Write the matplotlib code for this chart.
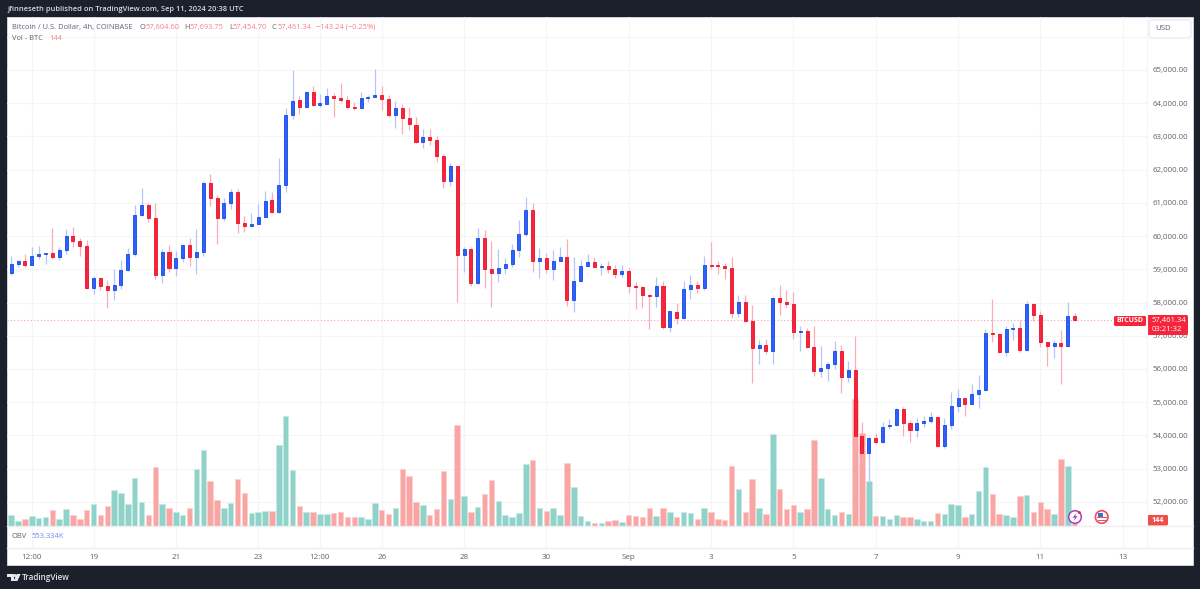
import matplotlib
matplotlib.use("Agg")
import matplotlib.pyplot as plt
from matplotlib.patches import Circle, FancyBboxPatch, Polygon, Rectangle

# 4h BTC/USD candles, 17 Aug - 11 Sep 2024
opens = [
    58887, 59157, 59257, 59137, 59387, 59467, 59490, 59357, 59587, 60017,
    59867, 59707, 58427, 58747, 58507, 58387, 58537, 58977, 59457, 60647,
    60937, 60557, 58817, 59507, 59027, 59327, 59747, 59367, 59527, 61608,
    61150, 60547, 60997, 61337, 60407, 60307, 60377, 60587, 61100, 60717,
    61540, 63645, 64097, 63877, 64328, 63937, 63990, 64226, 64166, 64106,
    63895, 63865, 64148, 64196, 64248, 64127, 63636, 63857, 63556, 63345,
    62834, 62984, 62894, 62412, 61670, 62101, 59433, 59624, 58601, 59945,
    59002, 58902, 59032, 59153, 59584, 60075, 60787, 59253, 59343, 59012,
    59253, 59383, 58079, 58661, 59101, 59231, 59071, 59101, 59001, 58860,
    58950, 58509, 58459, 58228, 58198, 58499, 57275, 57707, 57536, 58399,
    58519, 58439, 59141, 59131, 59091, 59051, 57687, 58008, 57456, 56633,
    56724, 56553, 58128, 58028, 57968, 57125, 57135, 56664, 55951, 56022,
    56142, 56553, 55771, 55981, 53985, 53463, 53935, 53795, 54276, 54316,
    54787, 54386, 54155, 54386, 54426, 54546, 53684, 54326, 54888, 55118,
    54948, 55249, 55369, 57074, 57044, 56512, 57205, 57225, 56563, 57957,
    57636, 56813, 56693, 56783, 56693, 57604.60,
]
closes = [
    59157, 59257, 59137, 59387, 59467, 59490, 59357, 59587, 60017, 59867,
    59707, 58427, 58747, 58507, 58387, 58537, 58977, 59457, 60647, 60937,
    60557, 58817, 59507, 59027, 59327, 59747, 59367, 59527, 61608, 61150,
    60547, 60997, 61337, 60407, 60307, 60377, 60587, 61057, 60717, 61540,
    63645, 64067, 63877, 64328, 63937, 64000, 64208, 64166, 64106, 63895,
    63865, 64148, 64196, 64248, 64127, 63636, 63856, 63566, 63365, 62834,
    62984, 62894, 62422, 61670, 62101, 59433, 59624, 58601, 59945, 59002,
    58902, 59032, 59153, 59584, 60075, 60787, 59253, 59343, 59012, 59253,
    59383, 58079, 58661, 59113, 59231, 59071, 59101, 59011, 58860, 58950,
    58509, 58459, 58218, 58198, 58499, 57275, 57737, 57536, 58409, 58519,
    58439, 59131, 59111, 59111, 59041, 57687, 58008, 57456, 56633, 56724,
    56553, 58138, 58018, 57968, 57125, 57155, 56664, 55951, 56022, 56142,
    56553, 55771, 55982, 53985, 53463, 53935, 53805, 54266, 54316, 54787,
    54386, 54155, 54386, 54426, 54546, 53684, 54326, 54888, 55118, 54948,
    55249, 55369, 57074, 57044, 56512, 57205, 57225, 56563, 57957, 57636,
    56813, 56693, 56783, 56693, 57596, 57461.34,
]
highs = [
    59407, 59287, 59467, 59657, 59707, 59497, 60247, 59687, 60207, 60287,
    59937, 59887, 58807, 58767, 58687, 59007, 59287, 59637, 60947, 61457,
    61000, 60987, 59607, 59737, 59537, 59767, 59947, 60217, 61650, 61860,
    61230, 61140, 61420, 61420, 60607, 60687, 60957, 61358, 61337, 62360,
    63865, 64990, 64226, 64370, 64527, 64278, 64468, 64300, 64609, 64230,
    64046, 64328, 64260, 65040, 64509, 64250, 64057, 63977, 63897, 63576,
    63225, 63215, 63014, 62482, 62202, 62110, 59664, 59684, 60236, 60186,
    59855, 59614, 59333, 59764, 60487, 61189, 60988, 59654, 59494, 59584,
    59664, 59925, 59383, 59283, 59454, 59383, 59201, 59241, 59121, 59131,
    59051, 58609, 58499, 58248, 58780, 58660, 57737, 57977, 58660, 58820,
    58660, 59412, 59823, 59251, 59181, 59362, 58228, 58218, 57927, 56864,
    56894, 58158, 58529, 58369, 58329, 57285, 57225, 57305, 56694, 56222,
    56834, 56724, 56242, 56994, 54396, 53950, 54065, 54396, 54486, 54817,
    54857, 54456, 54516, 54587, 54717, 54567, 54536, 55319, 55389, 55138,
    55550, 55810, 57205, 58107, 57074, 57305, 57395, 57475, 58057, 57997,
    57756, 56813, 56874, 57174, 58007, 57693.75,
]
lows = [
    58820, 59067, 59067, 59117, 59307, 59167, 59317, 59287, 59467, 59687,
    59387, 58420, 58247, 58387, 57837, 58087, 58397, 58950, 59387, 60607,
    60437, 58700, 58587, 58907, 58787, 59207, 59107, 58867, 59387, 60907,
    59757, 60467, 60817, 60107, 60127, 60307, 60360, 60570, 60690, 60700,
    61337, 63525, 63676, 63860, 63920, 63877, 63970, 63576, 64025, 63826,
    63796, 63835, 64025, 64180, 63796, 63600, 63263, 63074, 63195, 62814,
    62663, 62753, 62242, 61450, 61510, 58030, 58932, 58511, 58561, 58450,
    57879, 58631, 58852, 59083, 59383, 60015, 58912, 58732, 58882, 58671,
    59243, 57909, 57708, 58631, 59062, 59062, 58830, 58880, 58740, 58780,
    58278, 57797, 57827, 57215, 57877, 57195, 57125, 57356, 57506, 58098,
    58298, 58379, 59011, 58870, 58710, 57536, 57576, 57406, 55570, 56152,
    56453, 56162, 57626, 57857, 56914, 56553, 56624, 55791, 55771, 55650,
    55992, 55270, 55611, 53794, 53233, 52560, 53734, 53764, 54185, 54296,
    53995, 53814, 53965, 54266, 54366, 53644, 53634, 54196, 54697, 54587,
    54948, 54817, 55349, 56803, 56492, 56392, 56874, 56512, 56542, 57445,
    56673, 56091, 56342, 55550, 56663, 57454.70,
]
volumes = [
    646, 304, 380, 551, 456, 494, 893, 418, 988, 646,
    418, 893, 1235, 608, 1159, 2033, 1862, 1235, 2755, 1387,
    646, 3344, 1235, 1007, 779, 627, 1007, 3249, 4313, 2546,
    1463, 1007, 1311, 2660, 1862, 741, 779, 874, 836, 4636,
    6251, 3211, 1159, 779, 779, 703, 665, 741, 779, 532,
    494, 494, 380, 1311, 931, 703, 1007, 3249, 2869, 1349,
    1197, 646, 969, 3135, 1520, 5776, 1691, 817, 1083, 1824,
    2603, 1425, 646, 513, 741, 3553, 3762, 1045, 855, 1045,
    608, 3610, 2204, 551, 304, 190, 152, 266, 342, 228,
    608, 570, 532, 1007, 551, 1045, 779, 494, 779, 741,
    380, 1007, 817, 380, 342, 3401, 2128, 779, 2679, 1045,
    703, 5263, 2128, 969, 1197, 817, 969, 4883, 2717, 969,
    608, 779, 703, 7220, 5320, 2546, 551, 551, 418, 646,
    532, 532, 380, 266, 266, 741, 703, 1235, 1197, 494,
    703, 1976, 3344, 1824, 665, 608, 494, 1710, 1786, 817,
    1349, 969, 703, 3800, 3401, 144,
]
time_ticks = [3, 12, 24, 36, 45, 54, 66, 78, 90, 102, 114, 126, 138, 150, 162]
time_labels = ["12:00", "19", "21", "23", "12:00", "26", "28", "30", "Sep",
               "3", "5", "7", "9", "11", "13"]
price_ticks = list(range(52000, 67000, 1000))
last_price = closes[-1]

W, H = 1200, 589
DARK = "#1c202b"
GRID = "#f4f5f6"
TEXT = "#5f626d"
UP = "#2962ff"
UP_EDGE = "#1a47e0"
UP_WICK = "#b4c5fa"
DOWN = "#f7253c"
DOWN_EDGE = "#e8102a"
DOWN_WICK = "#f9aeb6"
VOL_UP = "#8fd2ca"
VOL_DOWN = "#f8a5a3"
FONT = "Open Sans"
plt.rcParams["font.family"] = [FONT, "DejaVu Sans"]


def box(left, top, right, bottom):
    # figure fraction rectangle from pixel edges, y counted from the top
    return [left / W, 1 - bottom / H, (right - left) / W, (bottom - top) / H]


fig = plt.figure(figsize=(W / 100, H / 100), dpi=100, facecolor=DARK)

# page background and panel
back = fig.add_axes([0, 0, 1, 1], zorder=0)
back.set_xlim(0, W)
back.set_ylim(H, 0)
back.axis("off")
back.add_patch(Rectangle((6.5, 17), 1186.5, 548, fc="white", ec="#cfd3dc", lw=0.7))

plot_box = box(7, 17, 1146.7, 526)
x_limits = (-0.612, 165.5)

ax_price = fig.add_axes(plot_box, zorder=1, facecolor="none")
ax_price.set_xlim(*x_limits)
ax_price.set_ylim(51274, 66595)
ax_price.set_xticks(time_ticks)
ax_price.set_yticks(price_ticks)
ax_price.set_yticklabels([f"{p:,.2f}" if p < 66000 else "" for p in price_ticks])
ax_price.grid(True, color=GRID, lw=0.8)
ax_price.set_axisbelow(True)
ax_price.yaxis.tick_right()
ax_price.tick_params(axis="y", length=0, pad=4.0, labelsize=5.7, labelcolor=TEXT)
ax_price.tick_params(axis="x", length=0, labelbottom=False)
for spine in ax_price.spines.values():
    spine.set_visible(False)

# volume on its own scale, under the candles
ax_vol = fig.add_axes(plot_box, zorder=2, facecolor="none", sharex=ax_price)
ax_vol.set_ylim(0, 29013)
ax_vol.axis("off")

ax_candle = fig.add_axes(plot_box, zorder=3, facecolor="none", sharex=ax_price, sharey=ax_price)
ax_candle.axis("off")

index = list(range(len(closes)))
is_up = [c >= o for o, c in zip(opens, closes)]

ax_vol.bar(index, volumes, width=0.8,
           color=[VOL_UP if u else VOL_DOWN for u in is_up],
           edgecolor=["#c9e9e5" if u else "#fbd0cf" for u in is_up], linewidth=0.5)

ax_candle.vlines(index, lows, highs, colors=[UP_WICK if u else DOWN_WICK for u in is_up], lw=0.9, zorder=2)
ax_candle.bar(index, [abs(c - o) for o, c in zip(opens, closes)],
              bottom=[min(o, c) for o, c in zip(opens, closes)], width=0.44,
              color=[UP if u else DOWN for u in is_up],
              edgecolor=[UP_EDGE if u else DOWN_EDGE for u in is_up], linewidth=0.6, zorder=3)
ax_candle.axhline(last_price, color="#f6a0a8", lw=0.8, ls=(0, (1, 2)), zorder=1)

# OBV strip, carries the time labels
ax_obv = fig.add_axes(box(7, 526, 1146.7, 548), zorder=1, facecolor="none", sharex=ax_price)
ax_obv.set_ylim(0, 1)
ax_obv.set_yticks([])
ax_obv.grid(True, axis="x", color=GRID, lw=0.8)
ax_obv.tick_params(axis="x", length=0, pad=4.2, labelsize=5.8, labelcolor=TEXT)
ax_obv.set_xticks(time_ticks)
ax_obv.set_xticklabels(time_labels)
for spine in ax_obv.spines.values():
    spine.set_visible(False)
ax_obv.set_xlim(*x_limits)

# header, footer and price tags on top of everything
front = fig.add_axes([0, 0, 1, 1], zorder=5, facecolor="none")
front.set_xlim(0, W)
front.set_ylim(H, 0)
front.axis("off")


def label(x, y, s, color=TEXT, size=5.4, **kw):
    front.text(x, y, s, color=color, fontsize=size, va="center", **kw)


def tag(x0, y0, x1, y1, color):
    front.add_patch(FancyBboxPatch((x0 + 1, y0 + 1), x1 - x0 - 2, y1 - y0 - 2,
                                   boxstyle="round,pad=1,rounding_size=1.5", fc=color, ec="none"))


label(7, 9.5, "jfinneseth published on TradingView.com, Sep 11, 2024 20:38 UTC",
      color="#d6d8de", size=5.4, fontweight="semibold")

LEGEND_RED = "#f7808a"
label(12, 27.5, "Bitcoin / U.S. Dollar, 4h, COINBASE")
for x_letter, letter, x_value, value in [
    (140, "O", 145, "57,604.60"), (184, "H", 189, "57,693.75"),
    (229, "L", 232.5, "57,454.70"), (272, "C", 277, "57,461.34"),
]:
    label(x_letter, 27.5, letter)
    label(x_value, 27.5, value, color=LEGEND_RED)
label(316, 27.5, "\u2212143.24 (\u22120.25%)", color=LEGEND_RED)
label(12, 38.5, "Vol - BTC")
label(49, 38.5, "144", color=LEGEND_RED)
label(12, 536, "OBV")
label(31, 536, "553.334K", color="#6d8cf5")

# separators of the right hand scale
front.plot([7, 1193], [526, 526], color="#eceef1", lw=1)
front.plot([7, 1193], [548, 548], color="#eceef1", lw=1)
front.plot([1146.7, 1146.7], [17, 548], color="#f5f6f7", lw=0.8)

front.add_patch(FancyBboxPatch((1150, 21), 40, 16, boxstyle="round,pad=1,rounding_size=2.5",
                               fc="white", ec="#e6e8ec", lw=0.8))
label(1155, 29, "USD", size=5.6)

# last price tags
TAG_RED = "#f7253c"
tag(1114, 316, 1146, 326, TAG_RED)
label(1130, 321, "BTCUSD", color="white", size=5.0, ha="center", fontweight="bold")
tag(1147, 315, 1188, 335, TAG_RED)
label(1152, 320.5, "57,461.34", color="white", size=5.5, fontweight="medium")
label(1152, 329.5, "03:21:32", color="white", size=5.5)
tag(1147, 515, 1168, 525.5, "#ee4d4a")
label(1157.5, 520.5, "144", color="white", size=5.2, ha="center", fontweight="bold")

# event markers next to the last bar
front.add_patch(Circle((1075, 517), 6.3, fc="white", ec="#a63ec4", lw=1.1))
front.add_patch(Polygon([(1076.5, 512.8), (1072.6, 517.8), (1075, 517.8), (1073.6, 521.2),
                         (1077.6, 516.2), (1075.2, 516.2)], fc="#a63ec4", ec="none"))
front.add_patch(Circle((1079.3, 512.5), 1.5, fc="#f7253c", ec="none"))
front.add_patch(Circle((1101.7, 517), 6.3, fc="white", ec="#ee4d5c", lw=1.2))
front.add_patch(Rectangle((1097.5, 513), 5, 4, fc="#3b6fd8", ec="none"))
front.add_patch(Rectangle((1097, 517.2), 9.5, 1.1, fc="#ee4d5c", ec="none"))
front.add_patch(Rectangle((1097.5, 519.6), 8.5, 1.1, fc="#ee4d5c", ec="none"))

# footer logo
front.add_patch(Polygon([(7, 574), (14, 574), (14, 581), (10.5, 581), (10.5, 577), (7, 577)],
                        fc="#e8e9ec", ec="none"))
front.add_patch(Polygon([(16.8, 574), (20.6, 574), (17.4, 581), (13.6, 581)], fc="#e8e9ec", ec="none"))
front.add_patch(Circle((15.2, 575.6), 1.5, fc="#e8e9ec", ec="none"))
label(22, 577.5, "TradingView", color="#e3e4e8", size=5.9, fontweight="semibold")

fig.savefig("out.png", dpi=100, facecolor=DARK)
